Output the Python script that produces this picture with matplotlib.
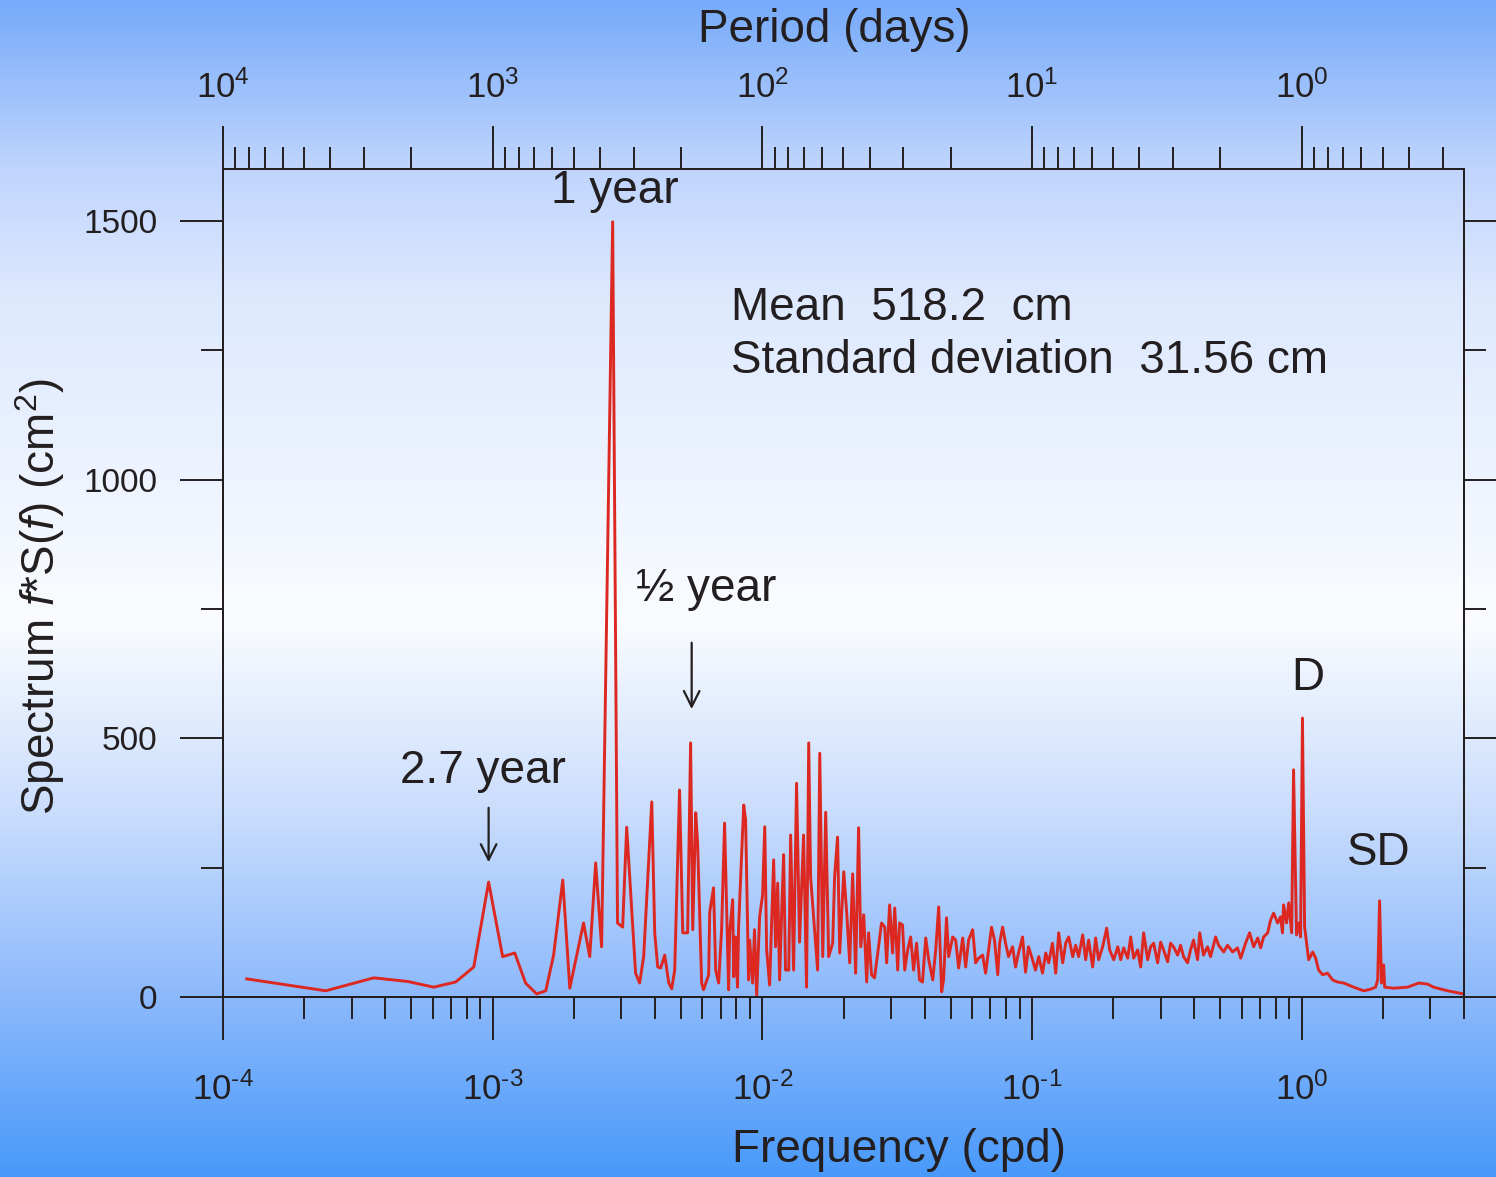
import numpy as np
import matplotlib
matplotlib.use("Agg")
import matplotlib.pyplot as plt
from matplotlib.ticker import LogLocator, FuncFormatter, MultipleLocator, NullFormatter

plt.rcParams['font.family'] = ['Liberation Sans', 'DejaVu Sans']
plt.rcParams['mathtext.fontset'] = 'custom'
plt.rcParams['mathtext.rm'] = 'Liberation Sans'
plt.rcParams['mathtext.it'] = 'Liberation Sans:italic'
plt.rcParams['axes.unicode_minus'] = False

##########
########## Data (log10 of frequency in cpd, spectrum in cm^2)
##########

# low harmonics up to the annual peak
logf_low = [-3.912, -3.619, -3.441, -3.315, -3.219, -3.137, -3.070, -3.015, -2.963, -2.918,
            -2.878, -2.837, -2.803, -2.774, -2.740, -2.714, -2.663, -2.640, -2.618, -2.596,
            -2.555, -2.537]
spec_low = [35, 12, 37, 30, 19, 29, 58, 222, 78, 85,
            27, 6, 12, 81, 226, 17, 143, 78, 259, 97,
            1498, 143]

# seasonal / intra-seasonal band
logf_mid = [-2.518, -2.503, -2.470, -2.455, -2.440, -2.410, -2.399, -2.388, -2.377, -2.362,
            -2.347, -2.336, -2.325, -2.307, -2.295, -2.277, -2.266, -2.258, -2.247, -2.240,
            -2.225, -2.218, -2.199, -2.195, -2.181, -2.173, -2.162, -2.151, -2.140, -2.125,
            -2.121, -2.110, -2.106, -2.099, -2.092, -2.088, -2.069, -2.062, -2.051, -2.047,
            -2.036, -2.029, -2.021, -2.010, -1.999, -1.991, -1.984, -1.973, -1.958, -1.951,
            -1.943, -1.936, -1.928, -1.921, -1.914, -1.902, -1.895, -1.884, -1.873, -1.862,
            -1.847, -1.836, -1.828, -1.821, -1.810, -1.795, -1.787, -1.776, -1.765, -1.754,
            -1.739, -1.732, -1.721, -1.713, -1.698, -1.687, -1.676, -1.665, -1.654, -1.643,
            -1.635, -1.624, -1.613, -1.606, -1.595]
spec_mid = [135, 328, 46, 27, 78, 377, 124, 58, 56, 81,
            27, 16, 52, 400, 124, 124, 491, 130, 356, 298,
            27, 14, 43, 164, 211, 52, 27, 130, 336, 14,
            124, 188, 39, 116, 19, 135, 371, 342, 33, 110,
            27, 130, 4, 155, 197, 329, 91, 23, 265, 97,
            220, 33, 168, 275, 52, 52, 313, 52, 413, 106,
            313, 19, 491, 232, 155, 52, 471, 78, 357, 78,
            104, 232, 309, 85, 242, 162, 66, 238, 46, 327,
            97, 159, 29, 124, 43]

# synoptic band
logf_high = [-1.584, -1.572, -1.558, -1.546, -1.539, -1.528, -1.517, -1.509, -1.498, -1.491,
             -1.480, -1.472, -1.461, -1.450, -1.439, -1.428, -1.417, -1.406, -1.394, -1.383,
             -1.368, -1.357, -1.346, -1.335, -1.328, -1.317, -1.309, -1.294, -1.283, -1.272,
             -1.257, -1.246, -1.235, -1.220, -1.209, -1.198, -1.183, -1.172, -1.161, -1.150,
             -1.139, -1.127, -1.120, -1.109, -1.098, -1.087, -1.072, -1.061, -1.050, -1.035,
             -1.024, -1.013, -0.998, -0.987, -0.975, -0.961, -0.949, -0.938, -0.924, -0.912,
             -0.901, -0.886, -0.875, -0.864, -0.849, -0.838, -0.827, -0.812, -0.801, -0.790,
             -0.775, -0.764, -0.753, -0.738, -0.723, -0.712, -0.697, -0.682, -0.671, -0.660,
             -0.645, -0.634, -0.623, -0.608, -0.597, -0.586, -0.571, -0.560, -0.549, -0.534,
             -0.523, -0.512, -0.497, -0.486, -0.475, -0.460, -0.449, -0.438, -0.423, -0.412,
             -0.401, -0.386, -0.378]
spec_high = [37, 85, 143, 135, 66, 178, 85, 172, 52, 143,
             139, 52, 91, 116, 52, 104, 33, 29, 114, 72,
             33, 91, 174, 10, 33, 153, 78, 116, 110, 56,
             114, 58, 110, 130, 66, 75, 81, 46, 91, 135,
             110, 43, 104, 135, 104, 78, 97, 58, 85, 116,
             48, 97, 72, 52, 78, 46, 85, 66, 104, 46,
             124, 66, 104, 116, 78, 100, 78, 120, 72, 110,
             58, 114, 72, 97, 133, 91, 72, 97, 72, 95,
             75, 116, 75, 91, 58, 124, 72, 97, 104, 66,
             106, 91, 68, 104, 97, 81, 100, 78, 66, 91,
             110, 72, 124]

# tidal band (D and SD)
logf_tide = [-0.364, -0.349, -0.338, -0.319, -0.308, -0.289, -0.275, -0.256, -0.238, -0.226,
             -0.208, -0.193, -0.178, -0.163, -0.152, -0.141, -0.126, -0.115, -0.104, -0.089,
             -0.078, -0.071, -0.067, -0.056, -0.048, -0.037, -0.030, -0.019, -0.011, -0.004,
             0.003, 0.011, 0.018, 0.026, 0.041, 0.052, 0.063, 0.078, 0.096, 0.115,
             0.133, 0.156, 0.193, 0.230, 0.256, 0.274, 0.282, 0.289, 0.296, 0.304,
             0.308, 0.341, 0.393, 0.434, 0.467, 0.489, 0.541, 0.600]
spec_tide = [81, 97, 78, 116, 100, 87, 100, 87, 95, 75,
             104, 124, 97, 114, 95, 116, 124, 149, 162, 143,
             155, 124, 178, 143, 182, 124, 439, 120, 143, 116,
             539, 135, 106, 72, 87, 75, 52, 43, 46, 33,
             29, 27, 19, 12, 15, 19, 33, 186, 27, 62,
             19, 17, 19, 27, 25, 19, 12, 6]

stats_lines = ["Mean  518.2  cm", "Standard deviation  31.56 cm"]

##########
########## Figure
##########

W, H = 1496, 1177
fig = plt.figure(figsize=(W / 100, H / 100), dpi=100)

# background gradient
bg = fig.add_axes([0, 0, 1, 1], zorder=-10)
rows = np.arange(H)
stop_y = [0, 169, 300, 620, 800, 997, 1177]
stop_c = np.array([(118, 170, 250), (192, 213, 253), (222, 233, 254), (250, 252, 255),
                   (205, 223, 253), (140, 185, 252), (72, 153, 250)]) / 255.0
grad = np.stack([np.interp(rows, stop_y, stop_c[:, i]) for i in range(3)], axis=1)
bg.imshow(grad[:, None, :], aspect='auto', extent=[0, 1, 0, 1])
bg.axis('off')

ax = fig.add_axes([223 / W, 180 / H, 1241 / W, 828 / H])
ax.set_facecolor('none')

txt = '#231f20'
red = '#dc2820'

logf = np.concatenate([logf_low, logf_mid, logf_high, logf_tide])
spec = np.concatenate([spec_low, spec_mid, spec_high, spec_tide])
ax.plot(10 ** logf, spec, color=red, lw=2.1)

ax.set_xscale('log')
ax.set_xlim(1e-4, 4)
ax.set_ylim(0, 1600)

for s in ax.spines.values():
    s.set_linewidth(1.4)
    s.set_color(txt)

def pow_fmt(v, pos):
    return r'$10^{\text{%d}}$' % int(round(np.log10(v)))

ax.xaxis.set_major_locator(LogLocator(base=10, numticks=20))
ax.xaxis.set_minor_locator(LogLocator(base=10, subs=np.arange(2, 10), numticks=100))
ax.xaxis.set_major_formatter(FuncFormatter(pow_fmt))
ax.xaxis.set_minor_formatter(NullFormatter())
ax.yaxis.set_major_locator(MultipleLocator(500))
ax.yaxis.set_minor_locator(MultipleLocator(250))

ax.tick_params(which='both', direction='out', width=1.4, color=txt, labelcolor=txt,
               labelsize=25, top=False, right=True, labelright=False)
ax.tick_params(which='major', length=31)
ax.tick_params(which='minor', length=15.5)
ax.tick_params(axis='y', pad=16, labelsize=24)
ax.tick_params(axis='x', pad=23)

# period axis on top: inverted log axis, period = 1/f
top = ax.twiny()
top.set_xscale('log')
top.set_xlim(1e4, 0.25)
top.xaxis.set_major_locator(LogLocator(base=10, numticks=20))
top.xaxis.set_minor_locator(LogLocator(base=10, subs=np.arange(2, 10), numticks=100))
top.xaxis.set_major_formatter(FuncFormatter(pow_fmt))
top.xaxis.set_minor_formatter(NullFormatter())
top.tick_params(which='both', direction='out', width=1.4, color=txt, labelcolor=txt,
                labelsize=25, bottom=False, labelbottom=False, top=True, labeltop=True)
top.tick_params(which='major', length=31, pad=15)
top.tick_params(which='minor', length=15.5)
for s in top.spines.values():
    s.set_linewidth(1.4)
    s.set_color(txt)

# axis titles
fig.text(834 / W, 1 - 30 / H, 'Period (days)', ha='center', va='center', fontsize=33, color=txt)
fig.text(899 / W, 1 - 1150 / H, 'Frequency (cpd)', ha='center', va='center', fontsize=33, color=txt)
fig.text(40 / W, 1 - 597 / H, r'Spectrum $\mathit{f}$*S($\mathit{f}$) (cm$^2$)', rotation=90,
         ha='center', va='center', fontsize=33, color=txt)

# annotations
ax.text(2.83e-3, 1535, '1 year', ha='center', va='baseline', fontsize=33, color=txt)
ax.text(7.63e-3, 1309, stats_lines[0], ha='left', va='baseline', fontsize=33, color=txt)
ax.text(7.63e-3, 1206, stats_lines[1], ha='left', va='baseline', fontsize=33, color=txt)
ax.text(6.21e-3, 765, '\u00bd year', ha='center', va='baseline', fontsize=33, color=txt)
ax.text(9.18e-4, 414, '2.7 year', ha='center', va='baseline', fontsize=33, color=txt)
ax.text(1.05, 593, 'D', ha='center', va='baseline', fontsize=33, color=txt)
ax.text(1.93, 255, 'SD', ha='center', va='baseline', fontsize=33, color=txt)

arrow = dict(arrowstyle='->', lw=1.6, color=txt, mutation_scale=28)
ax.annotate('', xy=(5.47e-3, 551), xytext=(5.47e-3, 690), arrowprops=arrow)
ax.annotate('', xy=(9.66e-4, 255), xytext=(9.66e-4, 371), arrowprops=arrow)

fig.savefig('out.png', dpi=100)
